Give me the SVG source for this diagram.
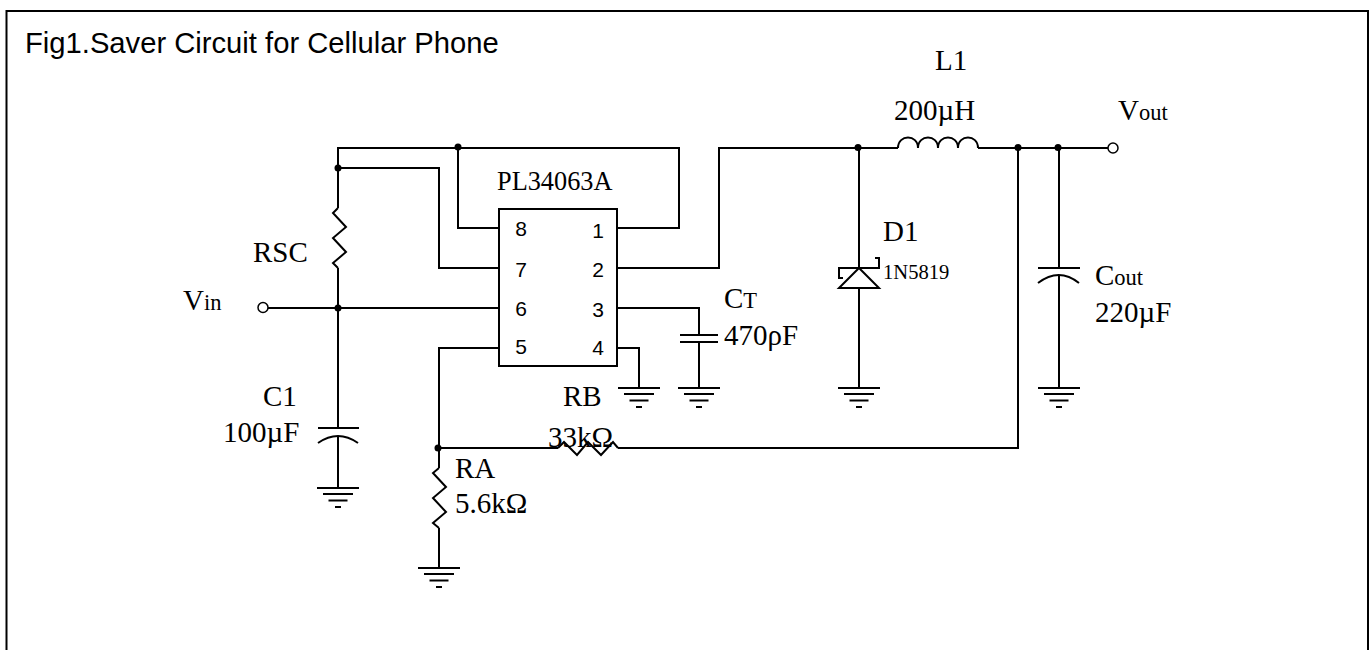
<svg xmlns="http://www.w3.org/2000/svg" width="1372" height="650" viewBox="0 0 1372 650">
<style>
.w{fill:none;stroke:#000;stroke-width:2;stroke-linejoin:miter}
.t{font-family:"Liberation Serif","Times New Roman",serif;font-size:29px;fill:#000}
.s{font-size:22.500px}
.a{font-family:"Liberation Sans",Arial,sans-serif;fill:#000}
.p{font-size:21px;text-anchor:middle}
.d{fill:#000}
.o{fill:#fff;stroke:#000;stroke-width:1.500}
</style>
<defs>
<g id="gnd"><path class="w" d="M-21 0H21M-15 6H15M-9.500 12.500H9.500M-3 19H3"/></g>
</defs>
<rect width="1372" height="650" fill="#fff"/>
<rect x="6.500" y="11" width="1361.500" height="660" fill="none" stroke="#000" stroke-width="2"/>
<text class="a" x="25" y="53" font-size="29.200">Fig1.Saver Circuit for Cellular Phone</text>
<g id="connectors">
<path class="w" d="M338 208V148H679V228H617"/>
<path class="w" d="M458 148V228H499"/>
<path class="w" d="M338 168H439V268H499"/>
<path class="w" d="M268 308H499"/>
<path class="w" d="M338 268V428M338 436V488"/>
<path class="w" d="M499 348H439V468M439 528V568"/>
<path class="w" d="M439 448H558M618 448H1018V148"/>
<path class="w" d="M617 268H719V148H898M978 148H1108"/>
<path class="w" d="M859 148V268M859 288V388"/>
<path class="w" d="M617 308H699V335M699 342V388"/>
<path class="w" d="M617 348H639V388"/>
<path class="w" d="M1059 148V268M1059 275V388"/>
</g>
<g id="U1"><rect class="w" x="499" y="209" width="118" height="157"/>
<text class="t" x="497" y="190" style="font-size:26.300px">PL34063A</text>
<g class="a p"><text x="521" y="236">8</text><text x="521" y="277">7</text><text x="521" y="316">6</text><text x="521" y="354">5</text><text x="598" y="238">1</text><text x="598" y="277">2</text><text x="598" y="317">3</text><text x="598" y="355">4</text></g></g>
<g id="RSC"><path class="w" d="M338 208L333 213L346 227L333 238L346 252L333 263L338 268"/><text class="t" x="253" y="262">RSC</text></g>
<g id="Vin"><circle class="o" cx="263" cy="307.500" r="5"/><text class="t" x="183" y="310">V<tspan class="s">in</tspan></text></g>
<g id="C1"><path class="w" d="M318 428H359M318 443Q338 429 358 443"/><use href="#gnd" x="338" y="488"/><text class="t" x="263" y="406">C1</text><text class="t" x="223" y="442">100µF</text></g>
<g id="RA"><path class="w" d="M439 468L433 473L446 487L433 498L446 512L433 523L439 528"/><use href="#gnd" x="439" y="568"/><text class="t" x="455" y="478">RA</text><text class="t" x="455" y="513">5.6kΩ</text></g>
<g id="RB"><path class="w" d="M558 448L564 442L577 455L588 442L601 455L613 442L618 448"/><text class="t" x="563" y="406">RB</text><text class="t" x="548" y="447">33kΩ</text></g>
<g id="G4"><use href="#gnd" x="639" y="388"/></g>
<g id="CT"><path class="w" d="M680 335H718M680 342H718"/><use href="#gnd" x="699" y="388"/><text class="t" x="724" y="308">C<tspan class="s">T</tspan></text><text class="t" x="724" y="345">470ρF</text></g>
<g id="D1"><path class="w" d="M859 268L839 288H879ZM875 258H879V268H839V278H843"/><use href="#gnd" x="859" y="388"/><text class="t" x="883" y="241">D1</text><text class="t" x="883" y="279" style="font-size:20.600px">1N5819</text></g>
<g id="L1"><path class="w" d="M898 148C898 134 918 134 918 148C918 134 938 134 938 148C938 134 958 134 958 148C958 134 978 134 978 148"/><text class="t" x="935" y="70">L1</text><text class="t" x="894" y="120">200µH</text></g>
<g id="Cout"><path class="w" d="M1038 268H1080M1038 283Q1059 267 1079 283"/><use href="#gnd" x="1059" y="388"/><text class="t" x="1095" y="285">C<tspan class="s">out</tspan></text><text class="t" x="1095" y="322">220µF</text></g>
<g id="Vout"><circle class="o" cx="1113" cy="148" r="5"/><text class="t" x="1118" y="120">V<tspan class="s">out</tspan></text></g>
<g id="junctions" class="d"><circle cx="338" cy="168" r="3.500"/><circle cx="458" cy="147" r="3.500"/><circle cx="338" cy="308" r="3.500"/><circle cx="438" cy="448" r="3.500"/><circle cx="858" cy="147.500" r="3.500"/><circle cx="1018" cy="147.500" r="3.500"/><circle cx="1058" cy="147.500" r="3.500"/></g>
</svg>
